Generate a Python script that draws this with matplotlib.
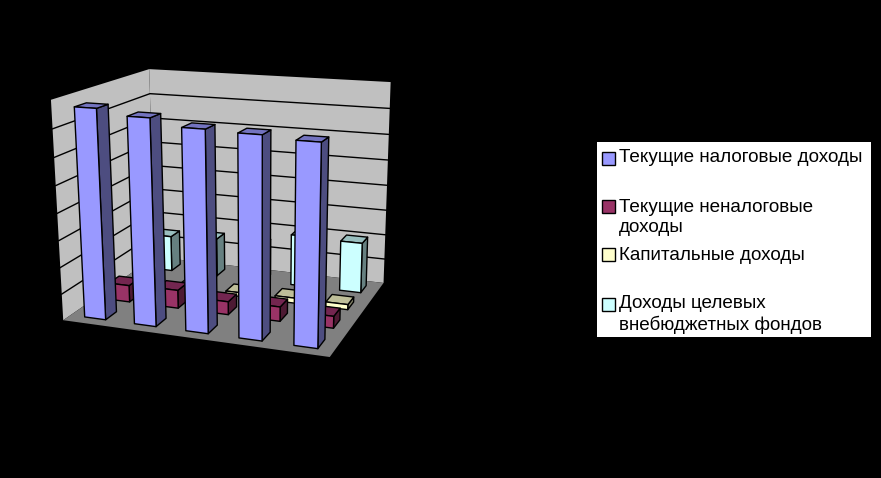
import numpy as np
import matplotlib
matplotlib.use("Agg")
import matplotlib.pyplot as plt
from matplotlib.patches import Polygon, Rectangle

plt.rcParams["font.family"] = ["Liberation Sans", "DejaVu Sans"]

SERIES = ["Текущие налоговые доходы", "Текущие неналоговые\nдоходы",
          "Капитальные доходы", "Доходы целевых\nвнебюджетных фондов"]
# values, the value axis labels are black on black
nalog = [77, 75, 72.5, 72, 71]
nenalog = [6.5, 7, 5, 5.5, 4.5]
kapital = [0.5, 1.5, 1.5, 2, 2]
celevye = [14.5, 15.5, 15, 20.5, 20]
VALUES = [nalog, nenalog, kapital, celevye]
Z_MAX = 80
Z_STEP = 10

FRONT = ["#9999FF", "#993366", "#FFFFCC", "#CCFFFF"]
SIDE = ["#4D4D80", "#4D1A33", "#808066", "#668080"]
TOP = ["#7373BF", "#732650", "#BFBF99", "#99BFBF"]
WALL, FLOOR = "#C0C0C0", "#808080"

# camera: box corners (x, depth, z) against where they sit in the picture
CORNERS = [(0, 0, 0), (1, 0, 0), (1, 1, 0), (0, 1, 0), (0, 1, 1), (1, 1, 1), (0, 0, 1)]
PIXELS = [(62, 320), (330, 357), (383, 283), (156, 257), (148, 69), (391, 82), (52, 100)]

def fit_camera(world, px):
    rows = []
    for (x, y, z), (u, v) in zip(world, px):
        rows.append([x, y, z, 1, 0, 0, 0, 0, -u*x, -u*y, -u*z, -u])
        rows.append([0, 0, 0, 0, x, y, z, 1, -v*x, -v*y, -v*z, -v])
    return np.linalg.svd(np.array(rows, float))[2][-1].reshape(3, 4)

CAM = fit_camera(CORNERS, PIXELS)

def pr(x, y, z):
    p = CAM @ np.array([x, y, z, 1.0])
    return p[0]/p[2], p[1]/p[2]

fig = plt.figure(figsize=(8.81, 4.78), dpi=100, facecolor="black")
ax = fig.add_axes([0, 0, 1, 1])
ax.set_xlim(0, 881); ax.set_ylim(478, 0); ax.axis("off")

def face(pts, color, lw=1.0, ec="black", z=1):
    ax.add_patch(Polygon([pr(*p) for p in pts], closed=True, fc=color, ec=ec, lw=lw, zorder=z, joinstyle="round"))

# walls and floor
face([(0, 0, 0), (0, 1, 0), (0, 1, 1), (0, 0, 1)], WALL, ec="none")
face([(0, 1, 0), (1, 1, 0), (1, 1, 1), (0, 1, 1)], WALL, ec="none")
face([(0, 0, 0), (1, 0, 0), (1, 1, 0), (0, 1, 0)], FLOOR, ec="none")

for v in np.arange(Z_STEP, Z_MAX, Z_STEP):
    z = v / Z_MAX
    ax.plot(*zip(pr(0, 0, z), pr(0, 1, z), pr(1, 1, z)), color="black", lw=1.0, zorder=2)

# bars, back row first
n_cat, n_ser = len(nalog), len(SERIES)
BAR_W, BAR_D = 0.085, 0.11
for j in range(n_ser - 1, -1, -1):
    y0 = (j + 0.5) / n_ser - BAR_D / 2
    y1 = y0 + BAR_D
    for i in range(n_cat):
        x0 = (i + 0.5) / n_cat - BAR_W / 2
        x1 = x0 + BAR_W
        h = VALUES[j][i] / Z_MAX
        order = 10 + (n_ser - j) * 10 + i
        face([(x1, y0, 0), (x1, y1, 0), (x1, y1, h), (x1, y0, h)], SIDE[j], z=order)
        face([(x0, y0, h), (x1, y0, h), (x1, y1, h), (x0, y1, h)], TOP[j], z=order)
        face([(x0, y0, 0), (x1, y0, 0), (x1, y0, h), (x0, y0, h)], FRONT[j], z=order)

# legend
ax.add_patch(Rectangle((597, 142), 274, 195, fc="white", ec="none", zorder=100))
LEG_Y = [158, 208, 256, 304]
SWATCH_Y = [152, 200, 248, 298]
for name, col, yy, sy in zip(SERIES, FRONT, LEG_Y, SWATCH_Y):
    ax.add_patch(Rectangle((602, sy), 12.5, 12.5, fc=col, ec="black", lw=1, zorder=101))
    ax.text(619, yy - 9.5, name, fontsize=13.6, color="black", va="top", ha="left",
            linespacing=1.3, zorder=102)

fig.savefig("out.png", dpi=100, facecolor="black")
